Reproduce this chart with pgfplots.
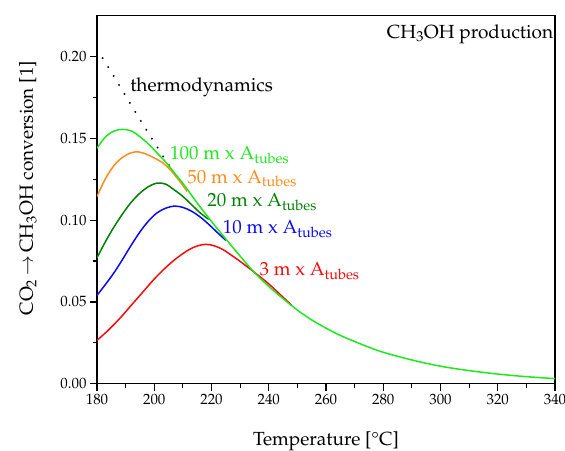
\documentclass[border=0pt]{standalone}
\usepackage[T1]{fontenc}
\usepackage{mathpazo}
\usepackage{pgfplots}
\pgfplotsset{compat=1.18}
\definecolor{cgreen}{RGB}{30,232,30}
\definecolor{corange}{RGB}{255,140,26}
\definecolor{cdgreen}{RGB}{0,128,0}
\definecolor{cblue}{RGB}{10,10,245}
\definecolor{cred}{RGB}{250,10,10}
\newcommand{\lab}{\fontsize{19bp}{23bp}\selectfont}
\begin{document}
\begin{tikzpicture}
\begin{axis}[
  scale only axis,
  width=458bp, height=368bp,
  xmin=180, xmax=340, ymin=0, ymax=0.225,
  xtick={180,200,...,340},
  ytick={0,0.05,...,0.2},
  minor x tick num=1, minor y tick num=1,
  tick pos=left, tick align=outside,
  major tick length=7bp, minor tick length=4bp,
  axis line style={line width=1.3bp},
  every tick/.style={line width=1.2bp, black},
  tick label style={font=\fontsize{14.9bp}{17bp}\selectfont},
  yticklabel style={/pgf/number format/.cd, fixed, fixed zerofill, precision=2},
  scaled y ticks=false,
  xlabel={Temperature [\textdegree C]},
  ylabel={CO\textsubscript{2}\,$\rightarrow$\,CH\textsubscript{3}OH conversion [1]},
  label style={font=\lab},
  xlabel style={at={(axis description cs:0.5,-0.168)}, anchor=base},
  ylabel style={at={(axis description cs:-0.14,0.531)}, anchor=base},
  every axis plot/.append style={line width=1.5bp, smooth, tension=0.55},
  clip=true,
]
% thermodynamics
\addplot[black, line width=2.2bp, line cap=round, dash pattern=on 0pt off 10.5bp, smooth] coordinates {
(180,0.2045)(185,0.1905)(190,0.176)(195,0.1615)(200,0.1475)(205,0.134)(207,0.129)};
% 3 m
\addplot[cred] coordinates {
(180,0.0265)(184,0.0328)(188,0.040)(192,0.048)(196,0.056)(200,0.064)(204,0.071)(208,0.077)(212,0.0818)(215,0.0842)(218,0.0852)(221,0.0843)(224,0.082)(227,0.0785)(230,0.0748)(233,0.0708)(236,0.0667)(240,0.061)(244,0.0545)(248,0.048)};
% 10 m
\addplot[cblue] coordinates {
(180,0.054)(183,0.0608)(186,0.068)(189,0.0762)(192,0.0848)(195,0.0928)(198,0.0995)(201,0.1045)(204,0.1073)(207,0.1086)(210,0.1078)(213,0.1055)(216,0.102)(219,0.0975)(222,0.0925)(225,0.0877)};
% 20 m
\addplot[cdgreen] coordinates {
(180,0.077)(183,0.087)(186,0.096)(189,0.104)(192,0.111)(195,0.1165)(198,0.1205)(201,0.1227)(204,0.122)(207,0.1185)(210,0.1145)(213,0.1095)(216,0.1045)(219,0.1005)};
% 50 m
\addplot[corange] coordinates {
(180,0.1145)(183,0.1255)(186,0.1335)(189,0.1385)(192,0.1412)(194.5,0.1417)(197,0.1405)(200,0.138)(203,0.135)(206,0.130)(209,0.1235)(211.5,0.1175)};
% 100 m (and equilibrium beyond)
\addplot[cgreen] coordinates {
(180,0.144)(183,0.151)(186,0.1545)(189,0.1555)(192,0.1545)(195,0.151)(198,0.1465)(201,0.141)(204,0.1355)(207,0.129)(210,0.1225)(215,0.1105)(220,0.0992)(225,0.0885)(230,0.078)(235,0.068)(240,0.0595)(245,0.052)(250,0.045)(255,0.039)(260,0.034)(265,0.0295)(270,0.0258)(275,0.0223)(280,0.0192)(290,0.0145)(300,0.0107)(310,0.008)(320,0.0059)(330,0.0043)(340,0.0031)};
\node[anchor=base west, font=\lab] at (axis cs:190.4,0.1788) {thermodynamics};
\node[anchor=base west, font=\lab, text=cgreen, inner sep=0pt] at (axis cs:205.5,0.137) {100 m x A\textsubscript{tubes}};
\node[anchor=base west, font=\lab, text=corange, inner sep=0pt] at (axis cs:211.5,0.1227) {50 m x A\textsubscript{tubes}};
\node[anchor=base west, font=\lab, text=cdgreen, inner sep=0pt] at (axis cs:218.5,0.1081) {20 m x A\textsubscript{tubes}};
\node[anchor=base west, font=\lab, text=cblue, inner sep=0pt] at (axis cs:223.9,0.0919) {10 m x A\textsubscript{tubes}};
\node[anchor=base west, font=\lab, text=cred, inner sep=0pt] at (axis cs:236.7,0.0659) {3 m x A\textsubscript{tubes}};
\node[anchor=base east, font=\lab, inner sep=0pt] at (axis cs:339.4,0.2113) {CH\textsubscript{3}OH production};
\end{axis}
\pgfresetboundingbox
\path ([shift={(-97bp,-67bp)}]current axis.south west) rectangle ([shift={(10bp,15.7bp)}]current axis.north east);
\end{tikzpicture}
\end{document}
